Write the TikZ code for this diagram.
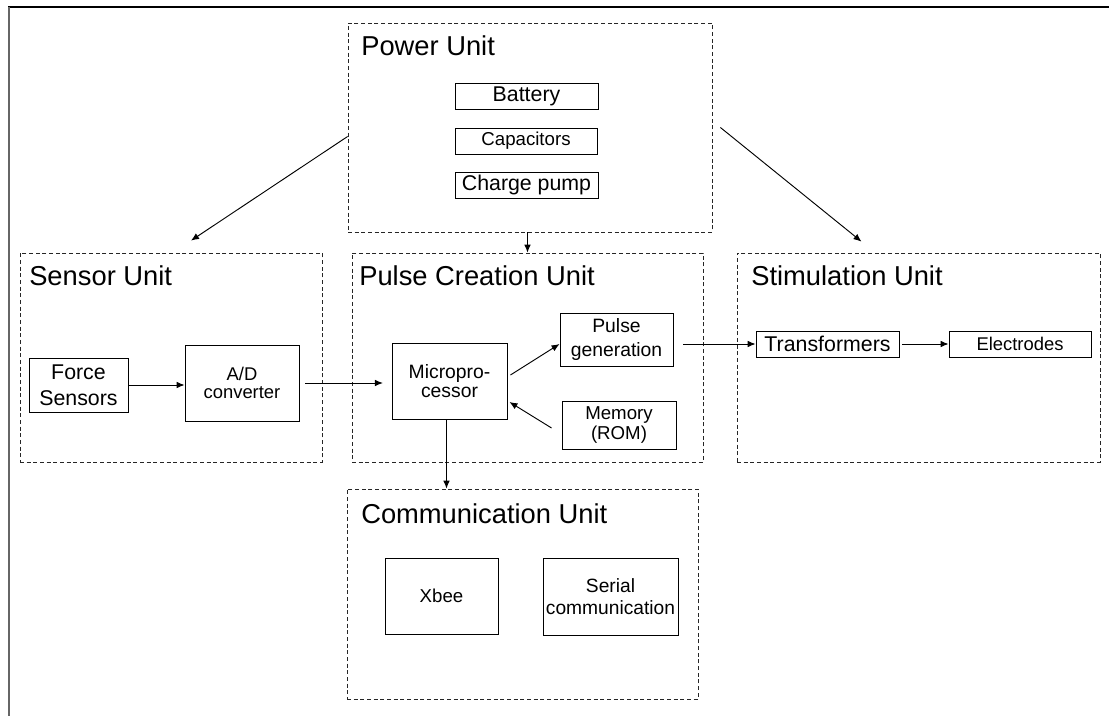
\documentclass[tikz,border=0pt]{standalone}
\usepackage{fontspec}
\setmainfont{Liberation Sans}
\usetikzlibrary{fit,calc,arrows.meta}
\tikzset{
  unitbox/.style={draw=black!85, dash pattern=on 3pt off 2pt, line width=0.6pt, inner sep=0pt},
  blk/.style={draw, line width=0.7pt, inner sep=0pt, align=center, anchor=center},
  unittitle/.style={anchor=base west, inner sep=0pt, font=\fontsize{20.5}{24}\selectfont},
  arr/.style={-{Latex[length=6pt,width=5pt]}, line width=0.7pt}
}
\begin{document}
\begin{tikzpicture}[x=0.75pt,y=-0.75pt]
\useasboundingbox (0,0) rectangle (1109,716);
% outer frame fragments
\draw[line width=0.8pt] (8,7) -- (1109,7);
\draw[line width=1.1pt, black!60] (9,7) -- (9,716);

% unit containers
\node[unitbox, fit={(348,23)(712,232)}] (power) {};
\node[unitbox, fit={(20,253)(322,462)}] (sensor) {};
\node[unitbox, fit={(352,253)(703,462)}] (pulse) {};
\node[unitbox, fit={(737,253)(1100,462)}] (stim) {};
\node[unitbox, fit={(347,489)(698,699)}] (comm) {};

% titles
\node[unittitle] (tpower) at (361,56) {Power Unit};
\node[unittitle] (tsensor) at (29,286) {Sensor Unit};
\node[unittitle] (tpulse) at (359,286) {Pulse Creation Unit};
\node[unittitle] (tstim) at (751,286) {Stimulation Unit};
\node[unittitle] (tcomm) at (361,523) {Communication Unit};

% power unit blocks
\node[blk, minimum width=107.25pt, minimum height=19.5pt, font=\fontsize{16}{19}\selectfont] (battery) at (526.5,96) {Battery};
\node[blk, minimum width=106.5pt, minimum height=19.5pt, font=\fontsize{14}{17}\selectfont] (caps) at (526,141) {Capacitors};
\node[blk, minimum width=107.25pt, minimum height=19.5pt, font=\fontsize{16}{19}\selectfont] (pump) at (526.5,185) {Charge pump};

% sensor unit blocks
\node[blk, minimum width=74.25pt, minimum height=40.5pt, font=\fontsize{16}{19.5}\selectfont] (force) at (78.5,385) {Force\\Sensors};
\node[blk, minimum width=85.5pt, minimum height=57pt, font=\fontsize{13.8}{14}\selectfont] (ad) at (242,383) {A/D\\converter};

% pulse creation blocks
\node[blk, minimum width=86.25pt, minimum height=57pt, font=\fontsize{14.5}{14.5}\selectfont] (micro) at (449.5,381) {Micropro-\\cessor};
\node[blk, minimum width=84.75pt, minimum height=39.75pt, font=\fontsize{14.5}{17.5}\selectfont] (pgen) at (616.5,339.5) {Pulse\\generation};
\node[blk, minimum width=85.5pt, minimum height=36pt, font=\fontsize{14}{14.5}\selectfont] (mem) at (619,425) {Memory\\(ROM)};

% stimulation blocks
\node[blk, minimum width=107.25pt, minimum height=19.5pt, font=\fontsize{16}{19}\selectfont] (trans) at (827.5,344) {Transformers};
\node[blk, minimum width=106.5pt, minimum height=19.5pt, font=\fontsize{13.8}{16}\selectfont] (elec) at (1020,344) {Electrodes};

% communication blocks
\node[blk, minimum width=84.75pt, minimum height=57pt, font=\fontsize{14}{17}\selectfont] (xbee) at (441.5,596) {Xbee};
\node[blk, minimum width=101.25pt, minimum height=57.75pt, font=\fontsize{14.4}{16.5}\selectfont] (serial) at (610.5,596.5) {Serial\\communication};

% connectors
\draw[arr] ($(power.west)+(0,9)$) -- ($(sensor.north)+(20,-12)$);
\draw[arr] ($(power.east)+(8,0)$) -- ($(stim.north)+(-57,-11)$);
\draw[arr] (power.south -| pulse.north) -- (pulse.north);
\draw[arr] (force.east) -- (force.east -| ad.west);
\draw[arr, shorten <=4.5pt, shorten >=6.5pt] (ad.east) -- (ad.east -| micro.west);
\draw[arr] ($(micro.east)+(3,-6)$) -- ($(pgen.west)+(0,4.5)$);
\draw[arr] ($(mem.west)+(-10,3)$) -- ($(micro.east)+(2,21)$);
\draw[arr] ($(micro.south)+(-3,0)$) -- ($(micro.south |- comm.north)+(-3,0)$);
\draw[arr] ($(pgen.east |- trans.west)+(10,0)$) -- (trans.west);
\draw[arr, shorten <=2pt] (trans.east) -- (elec.west);
\end{tikzpicture}
\end{document}
